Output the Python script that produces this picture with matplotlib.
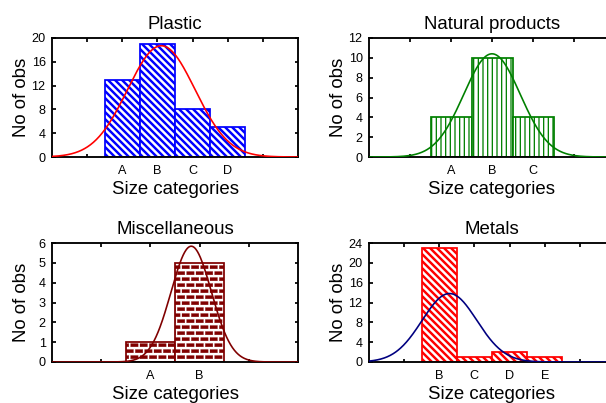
import warnings
import numpy as np
import matplotlib
matplotlib.use('Agg')
import matplotlib.pyplot as plt
from matplotlib import hatch as mhatch
from matplotlib.path import Path

warnings.filterwarnings('ignore')

# data: counts per size category and the fitted normal (mean, sd in category units, A=2)
plastic_cats = ['A', 'B', 'C', 'D']
plastic_counts = [13, 19, 8, 5]
plastic_fit = (3.11, 0.96)

natural_cats = ['A', 'B', 'C']
natural_counts = [4, 10, 4]
natural_fit = (3.0, 0.69)

misc_cats = ['A', 'B']
misc_counts = [1, 5]
misc_fit = (2.83, 0.41)

metals_cats = ['B', 'C', 'D', 'E']
metals_counts = [23, 1, 2, 1]
metals_fit = (2.29, 0.78)


# brick hatch ('b'), staggered rows of short filled rectangles
class BrickHatch(mhatch.HatchPatternBase):
    def __init__(self, hatch, density):
        self.rects = []
        if 'b' in hatch:
            nrow, ncol = 14, 9
            h, w = 0.55 / nrow, 0.8 / ncol
            for i in range(nrow):
                y0 = (i + 0.2) / nrow
                shift = 0.5 / ncol if i % 2 else 0
                for j in range(-1, ncol):
                    x0 = j / ncol + shift
                    x1 = min(x0 + w, 1)
                    x0 = max(x0, 0)
                    if x1 > x0:
                        self.rects.append((x0, y0, x1, y0 + h))
        self.num_vertices = 5 * len(self.rects)

    def set_vertices_and_codes(self, vertices, codes):
        for k, (x0, y0, x1, y1) in enumerate(self.rects):
            vertices[5*k:5*k+5] = [(x0, y0), (x1, y0), (x1, y1), (x0, y1), (x0, y0)]
            codes[5*k:5*k+5] = [Path.MOVETO, Path.LINETO, Path.LINETO,
                                Path.LINETO, Path.CLOSEPOLY]


mhatch._hatch_types.append(BrickHatch)

plt.rcParams['font.family'] = ['Liberation Sans', 'DejaVu Sans']

W, H = 606, 403
fig = plt.figure(figsize=(W / 84, H / 84), dpi=84)


def panel(rect, title, cats, counts, fit, color, hatch, hatch_lw, curve_color, ymax, ystep):
    l, t = rect
    ax = fig.add_axes([l / W, 1 - (t + 119) / H, 246 / W, 119 / H])
    pos = np.arange(len(cats)) + 2
    xmax = len(cats) + 3
    with plt.rc_context({'hatch.linewidth': hatch_lw}):
        ax.bar(pos, counts, width=1, facecolor='white', edgecolor=color,
               hatch=hatch, linewidth=1.5, zorder=2)
    x = np.linspace(0, xmax, 500)
    mu, sd = fit
    y = sum(counts) / (sd * np.sqrt(2 * np.pi)) * np.exp(-0.5 * ((x - mu) / sd) ** 2)
    ax.plot(x, y, color=curve_color, lw=1.4, zorder=3)

    ax.set_xlim(0, xmax)
    ax.set_ylim(0, ymax)
    ticks = list(range(1, xmax))
    ax.set_xticks(ticks)
    ax.set_xticklabels([cats[i - 2] if 2 <= i < 2 + len(cats) else '' for i in ticks])
    ax.set_yticks(np.arange(0, ymax + 1, ystep))
    ax.tick_params(direction='in', top=True, right=True, length=3, width=1.5,
                   labelsize=10.8)
    ax.tick_params(axis='x', pad=7)
    ax.tick_params(axis='y', pad=5.5)
    for s in ax.spines.values():
        s.set_linewidth(1.6)
    ax.set_title(title, fontsize=16, pad=8)
    ax.set_xlabel('Size categories', fontsize=16, labelpad=3)
    ax.set_ylabel('No of obs', fontsize=16)
    ax.yaxis.set_label_coords(-0.088, 0.5)
    return ax


panel((52, 38), 'Plastic', plastic_cats, plastic_counts, plastic_fit,
      '#0000ff', '\\\\\\\\', 2.1, '#ff0000', 20, 4)
panel((369, 38), 'Natural products', natural_cats, natural_counts, natural_fit,
      '#008000', '|||', 1.1, '#008000', 12, 2)
panel((52, 243), 'Miscellaneous', misc_cats, misc_counts, misc_fit,
      '#800000', 'b', 0.2, '#800000', 6, 1)
panel((369, 243), 'Metals', metals_cats, metals_counts, metals_fit,
      '#ff0000', '\\\\\\\\', 2.1, '#000080', 24, 4)

fig.savefig('out.png', dpi=84)
